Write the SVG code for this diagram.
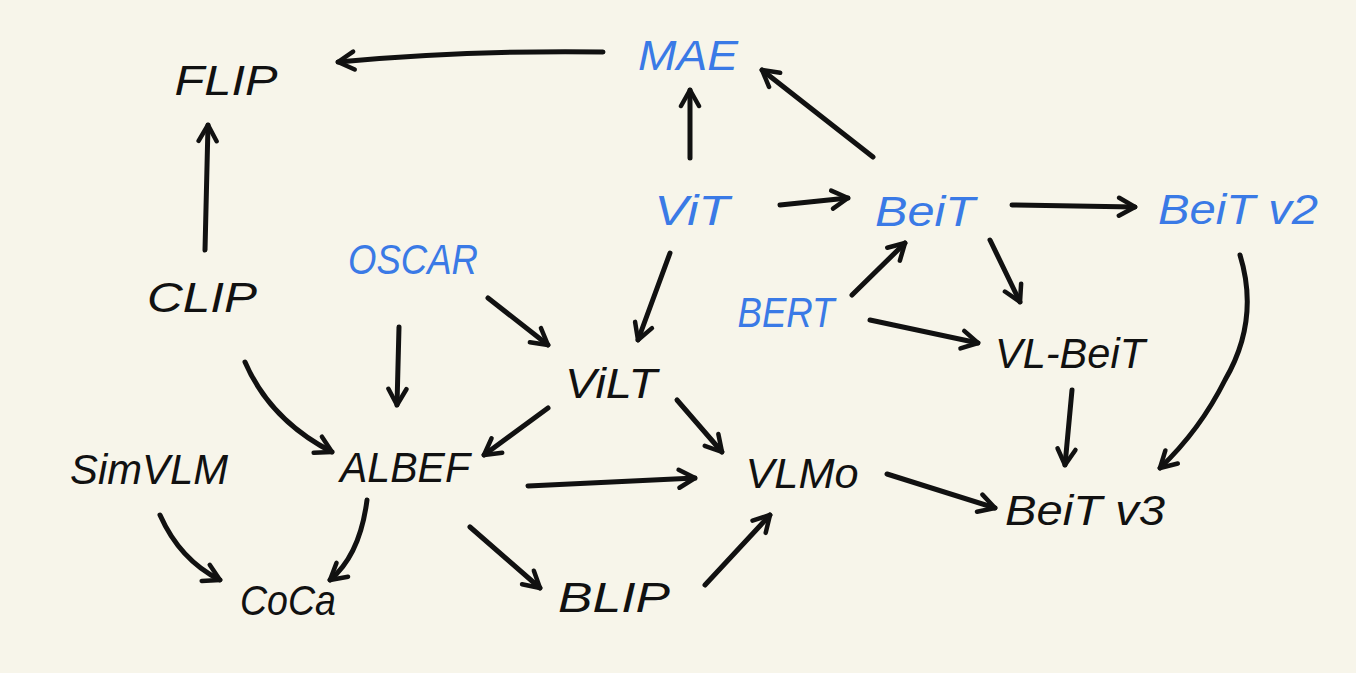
<svg xmlns="http://www.w3.org/2000/svg" width="1356" height="673" viewBox="0 0 1356 673">
<style>
.t{font-family:"Liberation Sans",Arial,sans-serif;font-size:42px;font-style:italic;text-anchor:middle}
.k{fill:#111111}
.b{fill:#3a7ae6}
.c path{fill:none;stroke:#111111;stroke-width:5;stroke-linecap:round;stroke-linejoin:round}
</style>
<defs>
<marker id="ah" viewBox="0 0 24 24" refX="20" refY="12" markerWidth="24" markerHeight="24" markerUnits="userSpaceOnUse" orient="auto">
<path d="M4,3 L20,12 L4,21" fill="none" stroke="#111111" stroke-width="4.5" stroke-linecap="round" stroke-linejoin="round"/>
</marker>
</defs>
<rect width="1356" height="673" fill="#f7f5ea"/>
<g class="c" id="connectors">
<path d="M603,52 Q470,50 338,62" marker-end="url(#ah)"/>
<path d="M690,158 L690,90" marker-end="url(#ah)"/>
<path d="M873,157 L762,70" marker-end="url(#ah)"/>
<path d="M780,205 L848,198" marker-end="url(#ah)"/>
<path d="M1012,205 L1135,207" marker-end="url(#ah)"/>
<path d="M670,253 L638,340" marker-end="url(#ah)"/>
<path d="M488,298 L548,345" marker-end="url(#ah)"/>
<path d="M399,327 L397,405" marker-end="url(#ah)"/>
<path d="M205,250 L208,125" marker-end="url(#ah)"/>
<path d="M245,362 Q270,420 332,452" marker-end="url(#ah)"/>
<path d="M852,295 L905,243" marker-end="url(#ah)"/>
<path d="M870,320 L978,343" marker-end="url(#ah)"/>
<path d="M990,240 L1020,302" marker-end="url(#ah)"/>
<path d="M1240,255 Q1260,320 1225,380 Q1200,430 1160,468" marker-end="url(#ah)"/>
<path d="M1072,390 L1065,465" marker-end="url(#ah)"/>
<path d="M548,408 L484,455" marker-end="url(#ah)"/>
<path d="M677,400 L722,452" marker-end="url(#ah)"/>
<path d="M528,486 L695,478" marker-end="url(#ah)"/>
<path d="M887,474 L995,508" marker-end="url(#ah)"/>
<path d="M160,515 Q180,560 220,580" marker-end="url(#ah)"/>
<path d="M367,500 Q360,555 330,580" marker-end="url(#ah)"/>
<path d="M470,527 L540,588" marker-end="url(#ah)"/>
<path d="M705,585 L770,515" marker-end="url(#ah)"/>
</g>
<g id="n-flip"><text class="t k" x="226" y="95" textLength="103" lengthAdjust="spacingAndGlyphs">FLIP</text></g>
<g id="n-mae"><text class="t b" x="688" y="70" textLength="100" lengthAdjust="spacingAndGlyphs">MAE</text></g>
<g id="n-vit"><text class="t b" x="692" y="225" textLength="75" lengthAdjust="spacingAndGlyphs">ViT</text></g>
<g id="n-beit"><text class="t b" x="925" y="226" textLength="100" lengthAdjust="spacingAndGlyphs">BeiT</text></g>
<g id="n-beitv2"><text class="t b" x="1238" y="224" textLength="160" lengthAdjust="spacingAndGlyphs">BeiT v2</text></g>
<g id="n-oscar"><text class="t b" x="413" y="274" textLength="130" lengthAdjust="spacingAndGlyphs">OSCAR</text></g>
<g id="n-clip"><text class="t k" x="202" y="312" textLength="110" lengthAdjust="spacingAndGlyphs">CLIP</text></g>
<g id="n-vilt"><text class="t k" x="611" y="398" textLength="92" lengthAdjust="spacingAndGlyphs">ViLT</text></g>
<g id="n-bert"><text class="t b" x="786" y="327" textLength="97" lengthAdjust="spacingAndGlyphs">BERT</text></g>
<g id="n-vlbeit"><text class="t k" x="1070" y="368" textLength="150" lengthAdjust="spacingAndGlyphs">VL-BeiT</text></g>
<g id="n-simvlm"><text class="t k" x="149" y="484" textLength="158" lengthAdjust="spacingAndGlyphs">SimVLM</text></g>
<g id="n-albef"><text class="t k" x="405" y="482" textLength="130" lengthAdjust="spacingAndGlyphs">ALBEF</text></g>
<g id="n-vlmo"><text class="t k" x="802" y="488" textLength="113" lengthAdjust="spacingAndGlyphs">VLMo</text></g>
<g id="n-beitv3"><text class="t k" x="1085" y="525" textLength="160" lengthAdjust="spacingAndGlyphs">BeiT v3</text></g>
<g id="n-coca"><text class="t k" x="288" y="615" textLength="96" lengthAdjust="spacingAndGlyphs">CoCa</text></g>
<g id="n-blip"><text class="t k" x="614" y="612" textLength="112" lengthAdjust="spacingAndGlyphs">BLIP</text></g>
</svg>
